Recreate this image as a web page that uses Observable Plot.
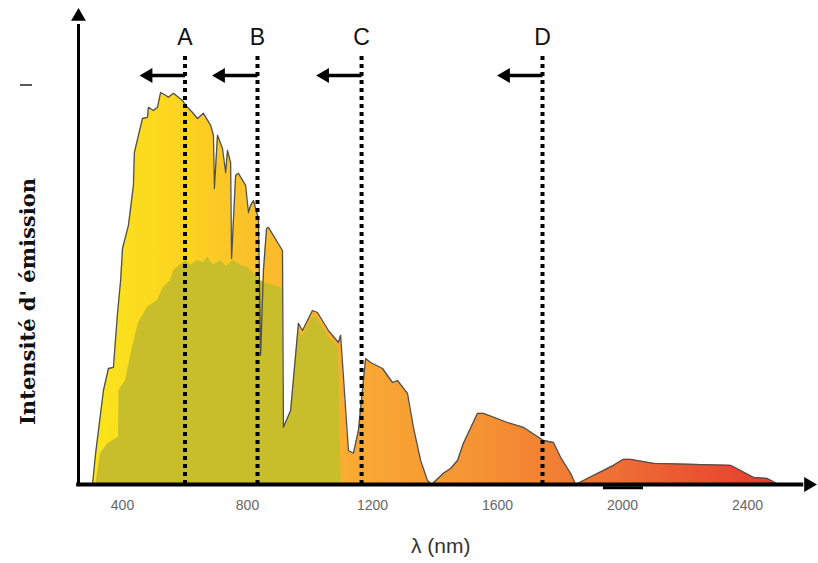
<!DOCTYPE html>
<html><head><meta charset="utf-8">
<script src="https://cdn.jsdelivr.net/npm/d3@7"></script>
<script src="https://cdn.jsdelivr.net/npm/@observablehq/plot@0.6"></script>
<style>body{margin:0;background:#fff;} #chart svg{display:block;}</style>
</head><body><div id="chart"></div>
<script>
// Outer spectrum (wavelength nm, relative intensity)
const outerNm = [304,314,339,355,371,384,394,400,419,435,438,451,464,480,483,499,512,522,538,547,563,579,592,602,624,640,659,682,691,694,704,720,730,736,746,749,762,771,794,803,810,819,835,842,851,861,867,912,915,938,963,976,1008,1024,1059,1091,1098,1123,1139,1155,1178,1194,1232,1264,1280,1312,1331,1354,1376,1389,1427,1450,1472,1491,1536,1555,1632,1683,1747,1779,1802,1834,1850,1875,1971,2003,2026,2099,2346,2378,2419,2464,2499];
const outerI = [0,7.8,23.5,29,29.3,42.8,51,59,64.8,74.8,83,87.3,91.5,91.8,94.3,93.5,94.3,98,97.3,96.8,97.8,96.8,96,94.8,93,91.5,92.8,89.8,87.3,74,87.3,84,78,83.5,80.5,56.5,77.3,77.8,74.8,68,69.8,71,66.5,32.3,53.5,64,64.3,58.5,14.3,18.5,40.3,38.5,43.5,43,38.5,35.5,37.3,8.5,7.8,13.5,31.5,30.5,29,25.5,26,22.8,14.3,6,1,0,2.8,4,6,10.3,17.8,17.8,15.5,14.3,11,10.5,6.8,2.8,0,1,4.8,6.3,6.3,5.3,4.8,3.5,1.8,1.5,0];
// Inner (olive) spectrum
const innerNm = [314,330,355,387,389,410,432,451,480,512,531,554,563,602,618,640,659,672,691,714,733,755,778,800,842,858,906,912,915,938,963,976,1008,1024,1059,1085,1091,1098,1101];
const innerI = [0,7.8,10.3,11.8,23.5,26,34.3,40.3,44.3,46,49.3,51,53.5,56,54.8,56,55.5,56.8,54.8,56,54.5,56,54.8,54.3,51,50.3,49.3,48.5,14.3,18,38.5,37,42,41.5,37,34.5,34.8,6,0];
// Cut-off markers
const cutoffNm = [600, 832, 1165, 1744];
const cutoffLabels = ["A", "B", "C", "D"];
// Axis ticks
const xTicks = [400, 800, 1200, 1600, 2000, 2400];
const xTickLabels = ["400", "800", "1200", "1600", "2000", "2400"];
const xTitle = "λ (nm)";
const yTitle = "Intensité d' émission";

const outer = outerNm.map((x, i) => ({x, y: outerI[i]}));
const inner = innerNm.map((x, i) => ({x, y: innerI[i]}));
const cut = cutoffNm.map((x, i) => ({x, label: cutoffLabels[i]}));
const ticks = xTicks.map((x, i) => ({x, label: xTickLabels[i]}));

const X0 = 259.2, X1 = 2601.6, YTOP = 118.5;
const arrowY = 102.25, dotTop = 107.25, labelY = 111.75;

const chart = Plot.plot({
  width: 818, height: 563,
  marginLeft: 78, marginRight: 8, marginTop: 10, marginBottom: 79,
  x: {domain: [X0, X1], axis: null},
  y: {domain: [0, YTOP], axis: null},
  style: {background: "white", fontFamily: "'Liberation Sans', Arial, sans-serif", overflow: "visible"},
  marks: [
    Plot.areaY(outer, {x: "x", y: "y", fill: "url(#specGrad)"}),
    Plot.areaY(inner, {x: "x", y: "y", fill: "#c8bd2b"}),
    Plot.lineY(outer, {x: "x", y: "y", stroke: "#505050", strokeWidth: 1.3}),
    // dotted cut-off lines
    Plot.ruleX(cut, {x: "x", y1: 0, y2: dotTop, stroke: "#000", strokeWidth: 4, strokeDasharray: "4,4"}),
    // arrows pointing left
    Plot.link(cut, {x1: "x", x2: d => d.x - 110, y1: arrowY, y2: arrowY, stroke: "#000", strokeWidth: 3.5}),
    Plot.dot(cut, {x: d => d.x - 118, y: arrowY, symbol: "triangle", r: 5.5, rotate: -90, fill: "#000", stroke: null}),
    Plot.text(cut, {x: "x", y: labelY, text: "label", fontSize: 23, fill: "#111"}),
    // axes
    Plot.ruleX([X0], {y1: -0.5, y2: 115, stroke: "#000", strokeWidth: 3}),
    Plot.dot([X0], {x: d => d, y: 117, symbol: "triangle", r: 5.5, fill: "#000", stroke: null}),
    Plot.ruleY([0], {x1: X0 - 6, x2: 2580, stroke: "#000", strokeWidth: 4}),
    Plot.dot([2595], {x: d => d, y: 0, symbol: "triangle", r: 5.5, rotate: 90, fill: "#000", stroke: null}),
    Plot.ruleY([-0.8], {x1: 1939, x2: 2067, stroke: "#000", strokeWidth: 3}),
    Plot.text(ticks, {x: "x", y: 0, dy: 21, text: "label", fontSize: 14, fill: "#666"}),
    Plot.text([xTitle], {x: 1418, y: 0, dy: 62, text: d => d, fontSize: 21, fill: "#333"}),
    Plot.text([yTitle], {frameAnchor: "left", textAnchor: "middle", dx: -50, dy: 54, text: d => d, rotate: -90, fontSize: 21, fontWeight: "bold", fontFamily: "'DejaVu Serif', serif", fill: "#111"}),
    Plot.ruleY([1], {x1: -1, x2: -1, stroke: "none"}),
  ]
});

// gradient definition for the spectrum fill
const gradOffsets = [0, 0.13, 0.23, 0.4, 0.57, 0.77, 1];
const gradColors = ["#fbe51c", "#fcd41f", "#fbc02a", "#f9a833", "#f59233", "#ee6d33", "#e63a2f"];
const svg = d3.select(chart);
const defs = svg.insert("defs", ":first-child");
const lg = defs.append("linearGradient").attr("id", "specGrad").attr("x1", "0").attr("x2", "1").attr("y1", "0").attr("y2", "0");
gradOffsets.forEach((o, i) => lg.append("stop").attr("offset", o).attr("stop-color", gradColors[i]));

// stretch y title to the reference length
svg.selectAll("text").filter(function () { return this.textContent === yTitle; })
  .attr("textLength", 247).attr("lengthAdjust", "spacingAndGlyphs");

// small dash mark at the upper left
svg.append("line").attr("x1", 20).attr("x2", 32).attr("y1", 85).attr("y2", 85)
  .attr("stroke", "#222").attr("stroke-width", 1.5);

document.getElementById("chart").appendChild(chart);
</script>
</body></html>
